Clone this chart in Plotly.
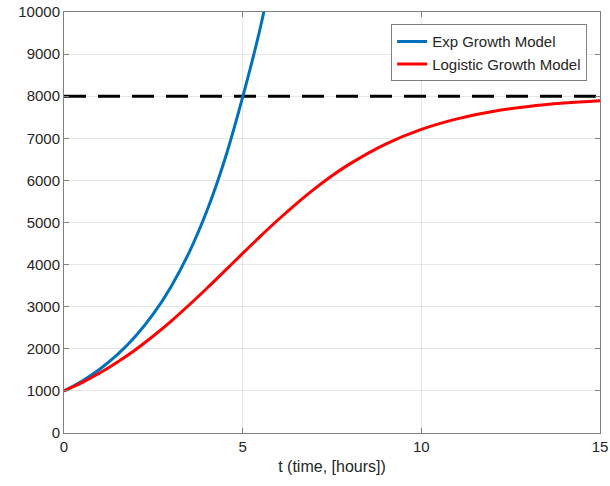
import plotly.graph_objects as go

t_exp = [0, 0.5, 1, 1.5, 2, 2.5, 3, 3.5, 4, 4.5, 5, 5.5, 6]
p_exp = [1000, 1231, 1516, 1866, 2297, 2828, 3482, 4287, 5278, 6498, 7980, 9650, 11700]

t_log = [0, 0.5, 1, 1.5, 2, 2.5, 3, 3.5, 4, 4.5, 5, 5.5, 6, 6.5, 7, 7.5, 8, 9, 10, 11, 12, 13, 14, 15]
p_log = [1000, 1195, 1424, 1685, 1977, 2303, 2658, 3040, 3439, 3850, 4267, 4675, 5071, 5445, 5794, 6111, 6393, 6862, 7211, 7461, 7637, 7756, 7836, 7892]

cap_t = [0, 15]
cap_p = [8000, 8000]

x_ticks = [0, 5, 10, 15]
y_ticks = [0, 1000, 2000, 3000, 4000, 5000, 6000, 7000, 8000, 9000, 10000]
y_labels = [str(v) for v in y_ticks]

fig = go.Figure()
fig.add_trace(go.Scatter(x=cap_t, y=cap_p, mode="lines", showlegend=False,
                         line=dict(color="black", width=3, dash="22px,12px")))
fig.add_trace(go.Scatter(x=t_exp, y=p_exp, mode="lines", name="Exp Growth Model",
                         line=dict(color="#0072BD", width=3, shape="spline")))
fig.add_trace(go.Scatter(x=t_log, y=p_log, mode="lines", name="Logistic Growth Model",
                         line=dict(color="#FF0000", width=3, shape="spline")))

axis_common = dict(showline=True, linecolor="#808080", linewidth=1, mirror="ticks",
                   ticks="inside", ticklen=5, tickcolor="#808080", automargin=False,
                   showgrid=True, gridcolor="#E6E6E6", gridwidth=1, zeroline=False,
                   tickfont=dict(family="Liberation Sans, Arial", size=15, color="#262626"))

fig.update_layout(
    width=610, height=486,
    margin=dict(l=64, r=10, t=12, b=53),
    plot_bgcolor="white", paper_bgcolor="white",
    font=dict(family="Liberation Sans, Arial", size=15, color="#262626"),
    xaxis=dict(range=[0, 15], tickvals=x_ticks,
               title=dict(text="t (time, [hours])", standoff=6,
                          font=dict(family="Liberation Sans, Arial", size=16, color="#262626")),
               **axis_common),
    yaxis=dict(range=[0, 10000], tickvals=y_ticks, ticktext=y_labels, **axis_common),
    legend=dict(x=0.976, y=0.971, xanchor="right", yanchor="top",
                bgcolor="white", bordercolor="#808080", borderwidth=1,
                font=dict(family="Liberation Sans, Arial", size=15, color="#262626"),
                tracegroupgap=0),
)

fig.write_html("out.html", config={"displayModeBar": False},
               post_script="document.body.style.margin='0';document.body.style.overflow='hidden';")
